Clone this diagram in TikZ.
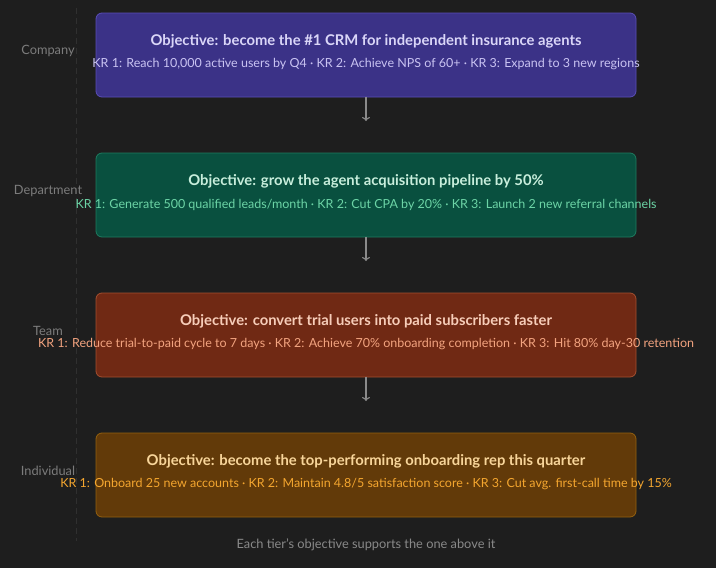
\documentclass[tikz,border=0pt]{standalone}
\usepackage{fontspec}
\setmainfont{Lato}
\usepackage{xcolor}
\usetikzlibrary{arrows.meta,positioning}

\definecolor{bgdark}{HTML}{1E1E1E}
\definecolor{guidegray}{HTML}{303030}
\definecolor{lvlgray}{HTML}{7C7C7C}
\definecolor{arrgray}{HTML}{8A8A8A}
\definecolor{coFill}{HTML}{3B3287}
\definecolor{coLine}{HTML}{5A4EB6}
\definecolor{coTitle}{HTML}{DAD6F8}
\definecolor{coKR}{HTML}{C9C3F2}
\definecolor{deFill}{HTML}{09503F}
\definecolor{deLine}{HTML}{1E7B5F}
\definecolor{deTitle}{HTML}{C8EEDC}
\definecolor{deKR}{HTML}{6CD4A6}
\definecolor{teFill}{HTML}{702914}
\definecolor{teLine}{HTML}{A34F2F}
\definecolor{teTitle}{HTML}{F7CDB9}
\definecolor{teKR}{HTML}{F2A37F}
\definecolor{inFill}{HTML}{623A09}
\definecolor{inLine}{HTML}{94600F}
\definecolor{inTitle}{HTML}{F8D59A}
\definecolor{inKR}{HTML}{F4A62F}

\begin{document}
\begin{tikzpicture}[
  x=1pt, y=-1pt,
  tier/.style={rectangle, rounded corners=6pt, line width=0.8pt, minimum width=540pt, minimum height=84pt},
  obj/.style={font=\fontsize{14.8}{17}\selectfont\bfseries, inner sep=0pt},
  kr/.style={font=\fontsize{12.5}{15}\selectfont, inner sep=0pt},
  level/.style={text=lvlgray, font=\fontsize{12.8}{15}\selectfont, inner sep=0pt},
  link/.style={-{To[length=4pt,width=8pt]}, draw=arrgray, line width=1.2pt},
  guide/.style={draw=guidegray, line width=1pt, dash pattern=on 6pt off 4pt}
]

\def\cx{366}
\def\dy{140}

\fill[bgdark] (0,0) rectangle (716,568);
\useasboundingbox (0,0) rectangle (716,568);

\draw[guide] (76,8) -- (76,541);

% tiers
\node[tier, fill=coFill, draw=coLine] (company) at (\cx,55) {};
\node[obj, text=coTitle] (companyobj) at (\cx,41) {Objective: become the \#1 CRM for independent insurance agents};
\node[kr, text=coKR] (companykr) at (\cx,64.5) {KR 1: Reach 10,000 active users by Q4 · KR 2: Achieve NPS of 60+ · KR 3: Expand to 3 new regions};

\node[tier, fill=deFill, draw=deLine] (department) at (\cx,55+\dy) {};
\node[obj, text=deTitle] (departmentobj) at (\cx,41+\dy) {Objective: grow the agent acquisition pipeline by 50\%};
\node[kr, text=deKR] (departmentkr) at (\cx,64.5+\dy) {KR 1: Generate 500 qualified leads/month · KR 2: Cut CPA by 20\% · KR 3: Launch 2 new referral channels};

\node[tier, fill=teFill, draw=teLine] (team) at (\cx,55+2*\dy) {};
\node[obj, text=teTitle] (teamobj) at (\cx,41+2*\dy) {Objective: convert trial users into paid subscribers faster};
\node[kr, text=teKR] (teamkr) at (\cx,64.5+2*\dy) {KR 1: Reduce trial-to-paid cycle to 7 days · KR 2: Achieve 70\% onboarding completion · KR 3: Hit 80\% day-30 retention};

\node[tier, fill=inFill, draw=inLine] (individual) at (\cx,55+3*\dy) {};
\node[obj, text=inTitle] (individualobj) at (\cx,41+3*\dy) {Objective: become the top-performing onboarding rep this quarter};
\node[kr, text=inKR] (individualkr) at (\cx,64.5+3*\dy) {KR 1: Onboard 25 new accounts · KR 2: Maintain 4.8/5 satisfaction score · KR 3: Cut avg. first-call time by 15\%};

% level labels
\node[level] (lcompany) at (48,51) {Company};
\node[level] (ldepartment) at (48,51+\dy) {Department};
\node[level] (lteam) at (48,51+2*\dy) {Team};
\node[level] (lindividual) at (48,51+3*\dy) {Individual};

% arrows
\coordinate (a1) at (\cx,121);
\coordinate (a2) at (\cx,121+\dy);
\coordinate (a3) at (\cx,121+2*\dy);
\draw[link] (company) -- (a1);
\draw[link] (department) -- (a2);
\draw[link] (team) -- (a3);

\node[level, text=lvlgray!90] (note) at (\cx,545) {Each tier's objective supports the one above it};

\end{tikzpicture}
\end{document}
